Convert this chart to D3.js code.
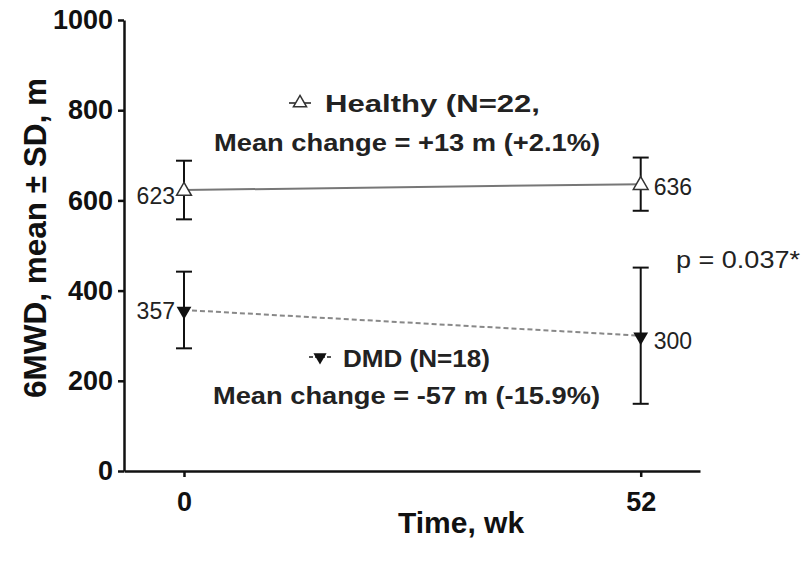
<!DOCTYPE html>
<html>
<head>
<meta charset="utf-8">
<script src="https://cdn.jsdelivr.net/npm/d3@7"></script>
<style>
  body { margin: 0; background: #fff; }
  svg { display: block; font-family: "Liberation Sans", Arial, sans-serif; }
  .axis path, .axis line { stroke: #111; stroke-width: 2.5px; }
  .axis text { font-weight: bold; font-size: 27px; fill: #111; }
</style>
</head>
<body>
<svg width="812" height="563"></svg>
<script>
// values
var weeks = [0, 52];
var healthyMean = [623, 636];
var healthySD = [65, 59];
var dmdMean = [357, 300];
var dmdSD = [85, 151];
var yTicks = [0, 200, 400, 600, 800, 1000];
var xTicks = [0, 52];

var svg = d3.select("svg");

var x = d3.scaleLinear().domain([-6.83, 58.75]).range([124, 700]),
    y = d3.scaleLinear().domain([0, 1000]).range([471, 20]);

var healthy = weeks.map(function (w, i) { return { wk: w, mean: healthyMean[i], sd: healthySD[i] }; });
var dmd = weeks.map(function (w, i) { return { wk: w, mean: dmdMean[i], sd: dmdSD[i] }; });

// axes
svg.append("g")
    .attr("class", "axis")
    .attr("transform", "translate(" + x.range()[0] + ",0)")
    .call(d3.axisLeft(y).tickValues(yTicks).tickFormat(d3.format("d"))
      .tickSize(6).tickSizeOuter(0).tickPadding(5));

svg.append("g")
    .attr("class", "axis")
    .attr("transform", "translate(0," + y(0) + ")")
    .call(d3.axisBottom(x).tickValues(xTicks).tickSize(6).tickSizeOuter(0).tickPadding(15));

// axis titles
svg.append("text")
    .attr("transform", "translate(46,238) rotate(-90)")
    .attr("text-anchor", "middle")
    .attr("font-size", 31).attr("font-weight", "bold").attr("fill", "#111")
    .attr("textLength", 320).attr("lengthAdjust", "spacingAndGlyphs")
    .text("6MWD, mean \u00b1 SD, m");

svg.append("text")
    .attr("x", 461).attr("y", 533)
    .attr("text-anchor", "middle")
    .attr("font-size", 30).attr("font-weight", "bold").attr("fill", "#111")
    .text("Time, wk");

// lines
var line = d3.line().x(function (d) { return x(d.wk); }).y(function (d) { return y(d.mean); });

svg.append("path").datum(healthy)
    .attr("d", line).attr("fill", "none").attr("stroke", "#777").attr("stroke-width", 2);

svg.append("path").datum(dmd)
    .attr("d", line).attr("fill", "none").attr("stroke", "#888").attr("stroke-width", 2)
    .attr("stroke-dasharray", "5,3");

// error bars
function errorBars(data) {
  var g = svg.append("g").attr("stroke", "#111").attr("stroke-width", 2);
  g.selectAll(".v").data(data).enter().append("line")
      .attr("x1", function (d) { return x(d.wk); }).attr("x2", function (d) { return x(d.wk); })
      .attr("y1", function (d) { return y(d.mean + d.sd); }).attr("y2", function (d) { return y(d.mean - d.sd); });
  [1, -1].forEach(function (s) {
    g.selectAll(".c" + s).data(data).enter().append("line")
        .attr("x1", function (d) { return x(d.wk) - 8; }).attr("x2", function (d) { return x(d.wk) + 8; })
        .attr("y1", function (d) { return y(d.mean + s * d.sd); }).attr("y2", function (d) { return y(d.mean + s * d.sd); });
  });
}
errorBars(healthy);
errorBars(dmd);

// markers
var triUp = d3.symbol().type(d3.symbolTriangle).size(95);
function triDown(px, py) { return "translate(" + px + "," + py + ") rotate(180)"; }

svg.selectAll(".hm").data(healthy).enter().append("path")
    .attr("d", triUp)
    .attr("transform", function (d) { return "translate(" + x(d.wk) + "," + (y(d.mean) + 1) + ")"; })
    .attr("fill", "#fff").attr("stroke", "#333").attr("stroke-width", 1.5);

svg.selectAll(".dm").data(dmd).enter().append("path")
    .attr("d", triUp)
    .attr("transform", function (d) { return triDown(x(d.wk), y(d.mean) + 1); })
    .attr("fill", "#111");

// value labels
function valueLabels(data, dyFirst, dyLast) {
  svg.selectAll(null).data(data).enter().append("text")
      .attr("x", function (d, i) { return i === 0 ? x(d.wk) - 9 : x(d.wk) + 13; })
      .attr("y", function (d, i) { return y(d.mean) + (i === 0 ? dyFirst : dyLast); })
      .attr("text-anchor", function (d, i) { return i === 0 ? "end" : "start"; })
      .attr("font-size", 23).attr("fill", "#222")
      .text(function (d) { return d.mean; });
}
valueLabels(healthy, 14, 11);
valueLabels(dmd, 9, 13);

// annotations
function legendKey(cx, cy, down) {
  svg.append("line").attr("x1", cx - 11).attr("x2", cx + 11).attr("y1", cy).attr("y2", cy)
      .attr("stroke", "#555").attr("stroke-width", 2)
      .attr("stroke-dasharray", down ? "4,2" : null);
  svg.append("path").attr("d", d3.symbol().type(d3.symbolTriangle).size(75))
      .attr("transform", down ? triDown(cx, cy) : "translate(" + cx + "," + cy + ")")
      .attr("fill", down ? "#111" : "#fff").attr("stroke", down ? "none" : "#333").attr("stroke-width", 1.5);
}

function note(txt, x0, x1, by, fs, bold) {
  svg.append("text").attr("x", x0).attr("y", by)
      .attr("font-size", fs).attr("font-weight", bold ? "bold" : "normal").attr("fill", "#222")
      .attr("textLength", x1 - x0).attr("lengthAdjust", "spacingAndGlyphs")
      .text(txt);
}

legendKey(300, 103, false);
note("Healthy (N=22,", 325, 540, 112, 23, true);
note("Mean change = +13 m (+2.1%)", 214, 600, 151, 23, true);

legendKey(320, 357, true);
note("DMD (N=18)", 343, 490, 367, 23, true);
note("Mean change = -57 m (-15.9%)", 213, 600, 404, 23, true);

note("p = 0.037*", 676, 800, 268, 24, false);
</script>
</body>
</html>
